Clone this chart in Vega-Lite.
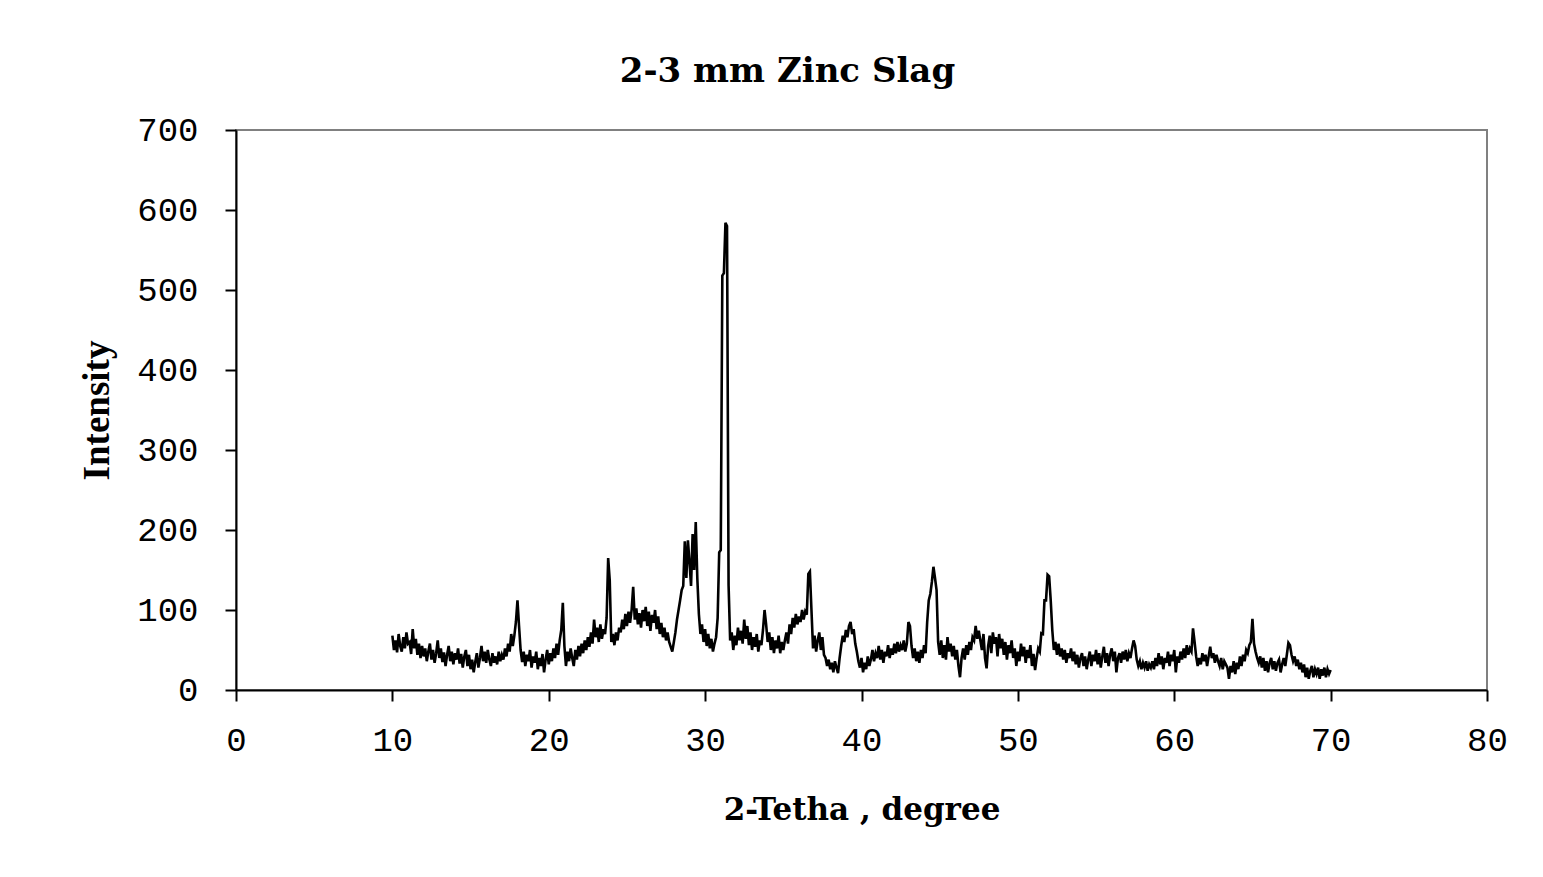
{
  "$schema": "https://vega.github.io/schema/vega-lite/v6.json",
  "width": 1251,
  "height": 560,
  "autosize": {"type": "none"},
  "padding": {"left": 236, "top": 130, "right": 56, "bottom": 187},
  "background": "white",
  "title": {
    "text": "2-3 mm Zinc Slag",
    "font": "DejaVu Serif",
    "fontWeight": "bold",
    "fontSize": 34,
    "color": "black",
    "anchor": "middle",
    "dx": -74,
    "offset": 24
  },
  "data": {
    "values": [
      {"t":10.0,"i":68},{"t":10.1,"i":50},{"t":10.2,"i":62},{"t":10.3,"i":47},{"t":10.4,"i":70},{"t":10.5,"i":55},{"t":10.6,"i":48},{"t":10.7,"i":66},{"t":10.8,"i":52},{"t":10.9,"i":72},
      {"t":11.0,"i":58},{"t":11.1,"i":60},{"t":11.2,"i":45},{"t":11.3,"i":76},{"t":11.4,"i":52},{"t":11.5,"i":64},{"t":11.6,"i":44},{"t":11.7,"i":58},{"t":11.8,"i":40},{"t":11.9,"i":55},
      {"t":12.0,"i":42},{"t":12.1,"i":52},{"t":12.2,"i":36},{"t":12.3,"i":48},{"t":12.4,"i":58},{"t":12.5,"i":38},{"t":12.6,"i":50},{"t":12.7,"i":34},{"t":12.8,"i":46},{"t":12.9,"i":62},
      {"t":13.0,"i":40},{"t":13.1,"i":52},{"t":13.2,"i":35},{"t":13.3,"i":47},{"t":13.4,"i":30},{"t":13.5,"i":44},{"t":13.6,"i":55},{"t":13.7,"i":36},{"t":13.8,"i":48},{"t":13.9,"i":32},
      {"t":14.0,"i":46},{"t":14.1,"i":38},{"t":14.2,"i":52},{"t":14.3,"i":33},{"t":14.4,"i":45},{"t":14.5,"i":28},{"t":14.6,"i":42},{"t":14.7,"i":50},{"t":14.8,"i":30},{"t":14.9,"i":44},
      {"t":15.0,"i":26},{"t":15.1,"i":38},{"t":15.2,"i":22},{"t":15.3,"i":35},{"t":15.4,"i":46},{"t":15.5,"i":28},{"t":15.6,"i":40},{"t":15.7,"i":55},{"t":15.8,"i":36},{"t":15.9,"i":48},
      {"t":16.0,"i":34},{"t":16.1,"i":50},{"t":16.2,"i":38},{"t":16.3,"i":30},{"t":16.4,"i":46},{"t":16.5,"i":34},{"t":16.6,"i":42},{"t":16.7,"i":32},{"t":16.8,"i":48},{"t":16.9,"i":36},
      {"t":17.0,"i":44},{"t":17.1,"i":38},{"t":17.2,"i":52},{"t":17.3,"i":42},{"t":17.4,"i":58},{"t":17.5,"i":48},{"t":17.6,"i":70},{"t":17.7,"i":55},{"t":17.8,"i":68},{"t":17.9,"i":85},
      {"t":18.0,"i":112},{"t":18.1,"i":80},{"t":18.2,"i":50},{"t":18.3,"i":35},{"t":18.4,"i":48},{"t":18.5,"i":30},{"t":18.6,"i":44},{"t":18.7,"i":36},{"t":18.8,"i":50},{"t":18.9,"i":28},
      {"t":19.0,"i":42},{"t":19.1,"i":34},{"t":19.2,"i":48},{"t":19.3,"i":26},{"t":19.4,"i":40},{"t":19.5,"i":30},{"t":19.6,"i":45},{"t":19.7,"i":22},{"t":19.8,"i":38},{"t":19.9,"i":50},
      {"t":20.0,"i":32},{"t":20.1,"i":46},{"t":20.2,"i":36},{"t":20.3,"i":52},{"t":20.4,"i":40},{"t":20.5,"i":58},{"t":20.6,"i":44},{"t":20.7,"i":62},{"t":20.8,"i":75},{"t":20.9,"i":109},
      {"t":21.0,"i":55},{"t":21.1,"i":30},{"t":21.2,"i":48},{"t":21.3,"i":36},{"t":21.4,"i":52},{"t":21.5,"i":40},{"t":21.6,"i":30},{"t":21.7,"i":50},{"t":21.8,"i":38},{"t":21.9,"i":55},
      {"t":22.0,"i":42},{"t":22.1,"i":58},{"t":22.2,"i":46},{"t":22.3,"i":62},{"t":22.4,"i":50},{"t":22.5,"i":66},{"t":22.6,"i":54},{"t":22.7,"i":72},{"t":22.8,"i":58},{"t":22.9,"i":88},
      {"t":23.0,"i":66},{"t":23.1,"i":78},{"t":23.2,"i":60},{"t":23.3,"i":82},{"t":23.4,"i":64},{"t":23.5,"i":76},{"t":23.6,"i":70},{"t":23.7,"i":90},{"t":23.8,"i":165},{"t":23.9,"i":137},
      {"t":24.0,"i":60},{"t":24.1,"i":70},{"t":24.2,"i":56},{"t":24.3,"i":72},{"t":24.4,"i":62},{"t":24.5,"i":78},{"t":24.6,"i":72},{"t":24.7,"i":88},{"t":24.8,"i":76},{"t":24.9,"i":95},
      {"t":25.0,"i":80},{"t":25.1,"i":98},{"t":25.2,"i":84},{"t":25.3,"i":100},{"t":25.4,"i":129},{"t":25.5,"i":88},{"t":25.6,"i":102},{"t":25.7,"i":82},{"t":25.8,"i":96},{"t":25.9,"i":78},
      {"t":26.0,"i":100},{"t":26.1,"i":86},{"t":26.2,"i":104},{"t":26.3,"i":80},{"t":26.4,"i":98},{"t":26.5,"i":74},{"t":26.6,"i":94},{"t":26.7,"i":84},{"t":26.8,"i":100},{"t":26.9,"i":76},
      {"t":27.0,"i":92},{"t":27.1,"i":70},{"t":27.2,"i":84},{"t":27.3,"i":66},{"t":27.4,"i":78},{"t":27.5,"i":62},{"t":27.6,"i":72},{"t":27.7,"i":60},{"t":27.8,"i":54},{"t":27.9,"i":48},
      {"t":28.0,"i":60},{"t":28.1,"i":72},{"t":28.2,"i":88},{"t":28.3,"i":100},{"t":28.4,"i":112},{"t":28.5,"i":125},{"t":28.6,"i":130},{"t":28.7,"i":186},{"t":28.8,"i":140},{"t":28.9,"i":187},
      {"t":29.0,"i":160},{"t":29.1,"i":130},{"t":29.2,"i":195},{"t":29.3,"i":150},{"t":29.4,"i":210},{"t":29.5,"i":140},{"t":29.6,"i":95},{"t":29.7,"i":70},{"t":29.8,"i":82},{"t":29.9,"i":60},
      {"t":30.0,"i":76},{"t":30.1,"i":55},{"t":30.2,"i":70},{"t":30.3,"i":52},{"t":30.4,"i":64},{"t":30.5,"i":48},{"t":30.6,"i":58},{"t":30.7,"i":66},{"t":30.8,"i":90},{"t":30.9,"i":172},
      {"t":31.0,"i":175},{"t":31.1,"i":518},{"t":31.2,"i":521},{"t":31.3,"i":584},{"t":31.4,"i":580},{"t":31.5,"i":131},{"t":31.6,"i":62},{"t":31.7,"i":72},{"t":31.8,"i":50},{"t":31.9,"i":68},
      {"t":32.0,"i":56},{"t":32.1,"i":78},{"t":32.2,"i":62},{"t":32.3,"i":74},{"t":32.4,"i":58},{"t":32.5,"i":88},{"t":32.6,"i":64},{"t":32.7,"i":80},{"t":32.8,"i":56},{"t":32.9,"i":72},
      {"t":33.0,"i":50},{"t":33.1,"i":66},{"t":33.2,"i":54},{"t":33.3,"i":70},{"t":33.4,"i":48},{"t":33.5,"i":62},{"t":33.6,"i":56},{"t":33.7,"i":75},{"t":33.8,"i":100},{"t":33.9,"i":82},
      {"t":34.0,"i":60},{"t":34.1,"i":72},{"t":34.2,"i":50},{"t":34.3,"i":66},{"t":34.4,"i":46},{"t":34.5,"i":62},{"t":34.6,"i":52},{"t":34.7,"i":68},{"t":34.8,"i":46},{"t":34.9,"i":60},
      {"t":35.0,"i":50},{"t":35.1,"i":62},{"t":35.2,"i":72},{"t":35.3,"i":58},{"t":35.4,"i":82},{"t":35.5,"i":70},{"t":35.6,"i":90},{"t":35.7,"i":78},{"t":35.8,"i":95},{"t":35.9,"i":82},
      {"t":36.0,"i":92},{"t":36.1,"i":85},{"t":36.2,"i":100},{"t":36.3,"i":88},{"t":36.4,"i":98},{"t":36.5,"i":94},{"t":36.6,"i":145},{"t":36.7,"i":148},{"t":36.8,"i":100},{"t":36.9,"i":52},
      {"t":37.0,"i":68},{"t":37.1,"i":48},{"t":37.2,"i":62},{"t":37.3,"i":72},{"t":37.4,"i":50},{"t":37.5,"i":66},{"t":37.6,"i":44},{"t":37.7,"i":40},{"t":37.8,"i":30},{"t":37.9,"i":38},
      {"t":38.0,"i":26},{"t":38.1,"i":34},{"t":38.2,"i":22},{"t":38.3,"i":36},{"t":38.4,"i":28},{"t":38.5,"i":21},{"t":38.6,"i":40},{"t":38.7,"i":55},{"t":38.8,"i":68},{"t":38.9,"i":60},
      {"t":39.0,"i":75},{"t":39.1,"i":66},{"t":39.2,"i":80},{"t":39.3,"i":85},{"t":39.4,"i":70},{"t":39.5,"i":76},{"t":39.6,"i":58},{"t":39.7,"i":48},{"t":39.8,"i":36},{"t":39.9,"i":28},
      {"t":40.0,"i":40},{"t":40.1,"i":22},{"t":40.2,"i":34},{"t":40.3,"i":26},{"t":40.4,"i":42},{"t":40.5,"i":30},{"t":40.6,"i":38},{"t":40.7,"i":50},{"t":40.8,"i":36},{"t":40.9,"i":46},
      {"t":41.0,"i":40},{"t":41.1,"i":55},{"t":41.2,"i":38},{"t":41.3,"i":50},{"t":41.4,"i":34},{"t":41.5,"i":48},{"t":41.6,"i":42},{"t":41.7,"i":56},{"t":41.8,"i":40},{"t":41.9,"i":52},
      {"t":42.0,"i":44},{"t":42.1,"i":58},{"t":42.2,"i":46},{"t":42.3,"i":60},{"t":42.4,"i":48},{"t":42.5,"i":56},{"t":42.6,"i":50},{"t":42.7,"i":62},{"t":42.8,"i":48},{"t":42.9,"i":58},
      {"t":43.0,"i":85},{"t":43.1,"i":80},{"t":43.2,"i":55},{"t":43.3,"i":40},{"t":43.4,"i":52},{"t":43.5,"i":36},{"t":43.6,"i":48},{"t":43.7,"i":34},{"t":43.8,"i":50},{"t":43.9,"i":40},
      {"t":44.0,"i":56},{"t":44.1,"i":46},{"t":44.2,"i":85},{"t":44.3,"i":112},{"t":44.4,"i":120},{"t":44.5,"i":135},{"t":44.6,"i":154},{"t":44.7,"i":140},{"t":44.8,"i":125},{"t":44.9,"i":60},
      {"t":45.0,"i":44},{"t":45.1,"i":62},{"t":45.2,"i":40},{"t":45.3,"i":56},{"t":45.4,"i":38},{"t":45.5,"i":66},{"t":45.6,"i":48},{"t":45.7,"i":58},{"t":45.8,"i":42},{"t":45.9,"i":55},
      {"t":46.0,"i":38},{"t":46.1,"i":50},{"t":46.2,"i":30},{"t":46.3,"i":16},{"t":46.4,"i":40},{"t":46.5,"i":52},{"t":46.6,"i":38},{"t":46.7,"i":56},{"t":46.8,"i":44},{"t":46.9,"i":60},
      {"t":47.0,"i":50},{"t":47.1,"i":66},{"t":47.2,"i":62},{"t":47.3,"i":80},{"t":47.4,"i":64},{"t":47.5,"i":74},{"t":47.6,"i":62},{"t":47.7,"i":50},{"t":47.8,"i":70},{"t":47.9,"i":40},
      {"t":48.0,"i":27},{"t":48.1,"i":55},{"t":48.2,"i":68},{"t":48.3,"i":46},{"t":48.4,"i":72},{"t":48.5,"i":58},{"t":48.6,"i":66},{"t":48.7,"i":42},{"t":48.8,"i":70},{"t":48.9,"i":52},
      {"t":49.0,"i":64},{"t":49.1,"i":44},{"t":49.2,"i":60},{"t":49.3,"i":38},{"t":49.4,"i":56},{"t":49.5,"i":46},{"t":49.6,"i":62},{"t":49.7,"i":40},{"t":49.8,"i":52},{"t":49.9,"i":30},
      {"t":50.0,"i":48},{"t":50.1,"i":36},{"t":50.2,"i":58},{"t":50.3,"i":42},{"t":50.4,"i":54},{"t":50.5,"i":34},{"t":50.6,"i":50},{"t":50.7,"i":40},{"t":50.8,"i":56},{"t":50.9,"i":30},
      {"t":51.0,"i":45},{"t":51.1,"i":25},{"t":51.2,"i":40},{"t":51.3,"i":52},{"t":51.4,"i":48},{"t":51.5,"i":71},{"t":51.6,"i":70},{"t":51.7,"i":112},{"t":51.8,"i":112},{"t":51.9,"i":144},
      {"t":52.0,"i":142},{"t":52.1,"i":112},{"t":52.2,"i":75},{"t":52.3,"i":50},{"t":52.4,"i":60},{"t":52.5,"i":44},{"t":52.6,"i":58},{"t":52.7,"i":42},{"t":52.8,"i":52},{"t":52.9,"i":38},
      {"t":53.0,"i":50},{"t":53.1,"i":34},{"t":53.2,"i":46},{"t":53.3,"i":40},{"t":53.4,"i":52},{"t":53.5,"i":36},{"t":53.6,"i":48},{"t":53.7,"i":32},{"t":53.8,"i":44},{"t":53.9,"i":28},
      {"t":54.0,"i":40},{"t":54.1,"i":46},{"t":54.2,"i":30},{"t":54.3,"i":42},{"t":54.4,"i":26},{"t":54.5,"i":38},{"t":54.6,"i":48},{"t":54.7,"i":30},{"t":54.8,"i":44},{"t":54.9,"i":36},
      {"t":55.0,"i":50},{"t":55.1,"i":32},{"t":55.2,"i":46},{"t":55.3,"i":28},{"t":55.4,"i":42},{"t":55.5,"i":54},{"t":55.6,"i":34},{"t":55.7,"i":46},{"t":55.8,"i":30},{"t":55.9,"i":44},
      {"t":56.0,"i":52},{"t":56.1,"i":36},{"t":56.2,"i":48},{"t":56.3,"i":22},{"t":56.4,"i":40},{"t":56.5,"i":46},{"t":56.6,"i":34},{"t":56.7,"i":48},{"t":56.8,"i":38},{"t":56.9,"i":50},
      {"t":57.0,"i":36},{"t":57.1,"i":46},{"t":57.2,"i":40},{"t":57.3,"i":52},{"t":57.4,"i":62},{"t":57.5,"i":55},{"t":57.6,"i":38},{"t":57.7,"i":30},{"t":57.8,"i":36},{"t":57.9,"i":26},
      {"t":58.0,"i":34},{"t":58.1,"i":28},{"t":58.2,"i":36},{"t":58.3,"i":24},{"t":58.4,"i":32},{"t":58.5,"i":28},{"t":58.6,"i":36},{"t":58.7,"i":26},{"t":58.8,"i":40},{"t":58.9,"i":30},
      {"t":59.0,"i":46},{"t":59.1,"i":32},{"t":59.2,"i":42},{"t":59.3,"i":26},{"t":59.4,"i":40},{"t":59.5,"i":34},{"t":59.6,"i":48},{"t":59.7,"i":30},{"t":59.8,"i":44},{"t":59.9,"i":36},
      {"t":60.0,"i":50},{"t":60.1,"i":22},{"t":60.2,"i":42},{"t":60.3,"i":34},{"t":60.4,"i":48},{"t":60.5,"i":38},{"t":60.6,"i":52},{"t":60.7,"i":40},{"t":60.8,"i":56},{"t":60.9,"i":44},
      {"t":61.0,"i":52},{"t":61.1,"i":48},{"t":61.2,"i":77},{"t":61.3,"i":60},{"t":61.4,"i":42},{"t":61.5,"i":30},{"t":61.6,"i":40},{"t":61.7,"i":32},{"t":61.8,"i":46},{"t":61.9,"i":36},
      {"t":62.0,"i":44},{"t":62.1,"i":30},{"t":62.2,"i":42},{"t":62.3,"i":54},{"t":62.4,"i":40},{"t":62.5,"i":46},{"t":62.6,"i":34},{"t":62.7,"i":44},{"t":62.8,"i":36},{"t":62.9,"i":30},
      {"t":63.0,"i":40},{"t":63.1,"i":26},{"t":63.2,"i":36},{"t":63.3,"i":32},{"t":63.4,"i":28},{"t":63.5,"i":14},{"t":63.6,"i":30},{"t":63.7,"i":22},{"t":63.8,"i":36},{"t":63.9,"i":20},
      {"t":64.0,"i":34},{"t":64.1,"i":26},{"t":64.2,"i":42},{"t":64.3,"i":30},{"t":64.4,"i":44},{"t":64.5,"i":36},{"t":64.6,"i":50},{"t":64.7,"i":46},{"t":64.8,"i":56},{"t":64.9,"i":60},
      {"t":65.0,"i":89},{"t":65.1,"i":58},{"t":65.2,"i":48},{"t":65.3,"i":40},{"t":65.4,"i":34},{"t":65.5,"i":42},{"t":65.6,"i":28},{"t":65.7,"i":40},{"t":65.8,"i":24},{"t":65.9,"i":36},
      {"t":66.0,"i":22},{"t":66.1,"i":34},{"t":66.2,"i":40},{"t":66.3,"i":26},{"t":66.4,"i":36},{"t":66.5,"i":24},{"t":66.6,"i":34},{"t":66.7,"i":38},{"t":66.8,"i":22},{"t":66.9,"i":32},
      {"t":67.0,"i":40},{"t":67.1,"i":30},{"t":67.2,"i":44},{"t":67.3,"i":59},{"t":67.4,"i":56},{"t":67.5,"i":44},{"t":67.6,"i":36},{"t":67.7,"i":42},{"t":67.8,"i":30},{"t":67.9,"i":38},
      {"t":68.0,"i":26},{"t":68.1,"i":34},{"t":68.2,"i":22},{"t":68.3,"i":32},{"t":68.4,"i":16},{"t":68.5,"i":28},{"t":68.6,"i":14},{"t":68.7,"i":24},{"t":68.8,"i":30},{"t":68.9,"i":16},
      {"t":69.0,"i":26},{"t":69.1,"i":20},{"t":69.2,"i":28},{"t":69.3,"i":14},{"t":69.4,"i":26},{"t":69.5,"i":18},{"t":69.6,"i":28},{"t":69.7,"i":16},{"t":69.8,"i":26},{"t":69.9,"i":20},
      {"t":70.0,"i":25}
    ]
  },
  "mark": {"type": "line", "color": "black", "strokeWidth": 2.6, "interpolate": "linear"},
  "encoding": {
    "x": {
      "field": "t",
      "type": "quantitative",
      "scale": {"domain": [0, 80], "nice": false, "zero": false},
      "axis": {
        "title": "2-Tetha , degree",
        "values": [0, 10, 20, 30, 40, 50, 60, 70, 80],
        "titlePadding": 38
      }
    },
    "y": {
      "field": "i",
      "type": "quantitative",
      "scale": {"domain": [0, 700], "nice": false},
      "axis": {
        "title": "Intensity",
        "values": [0, 100, 200, 300, 400, 500, 600, 700],
        "titlePadding": 20,
        "labelPadding": 27
      }
    }
  },
  "config": {
    "view": {"stroke": "#808080", "strokeWidth": 2},
    "axis": {
      "grid": false,
      "domainColor": "black",
      "domainWidth": 2,
      "tickColor": "black",
      "tickWidth": 2,
      "tickSize": 11,
      "labelFont": "Liberation Mono",
      "labelFontSize": 34,
      "labelColor": "black",
      "labelPadding": 22,
      "labelFlush": false,
      "labelOverlap": false,
      "titleFont": "Liberation Serif",
      "titleFontWeight": "bold",
      "titleFontSize": 37,
      "titleColor": "black"
    },
    "axisX": {"titleFont": "DejaVu Serif", "titleFontSize": 31}
  }
}
